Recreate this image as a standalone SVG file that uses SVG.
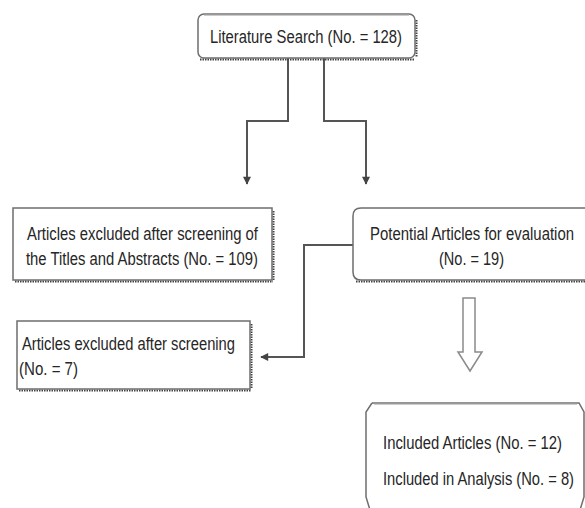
<svg xmlns="http://www.w3.org/2000/svg" width="585" height="508" viewBox="0 0 585 508">
<defs>
<style>
text{font-family:"Liberation Sans",Arial,sans-serif;font-size:17.5px;fill:#262626}
.box{fill:#fff;stroke:#6e6e6e;stroke-width:1.5}
.shadow{fill:none;stroke:#444;stroke-width:2;stroke-dasharray:1.5 1}
.conn{fill:none;stroke:#555;stroke-width:2}
.hollow{fill:#fff;stroke:#8a8a8a;stroke-width:1.5}
</style>
<marker id="ah" viewBox="0 0 10 10" refX="9" refY="5" markerWidth="4.5" markerHeight="4" orient="auto" markerUnits="strokeWidth">
<path d="M0,0 L10,5 L0,10 z" fill="#444"/>
</marker>
</defs>
<rect width="585" height="508" fill="#fff"/>

<g id="connectors">
<path class="conn" d="M288,58 V121 H247 V184" marker-end="url(#ah)"/>
<path class="conn" d="M324,58 V121 H366 V184" marker-end="url(#ah)"/>
<path class="conn" d="M353,245 H304 V357 H261" marker-end="url(#ah)"/>
<path class="hollow" d="M463,298 H475 V352 H482 L470,371 L458,352 H463 Z"/>
</g>

<g id="literature-search">
<path class="shadow" d="M200,59.5 H414 M416.5,20 V57"/>
<rect class="box" x="198" y="14" width="217" height="44" rx="6"/>
<line x1="204" y1="14.5" x2="409" y2="14.5" stroke="#999" stroke-width="2"/>
<text x="210" y="43" textLength="192" lengthAdjust="spacingAndGlyphs">Literature Search (No. = 128)</text>
</g>

<g id="excluded-titles">
<path class="shadow" d="M15,281.5 H273 M273.5,211 V280"/>
<rect class="box" x="13" y="208" width="259" height="72"/>
<text x="27" y="240" textLength="231" lengthAdjust="spacingAndGlyphs">Articles excluded after screening of</text>
<text x="26" y="265" textLength="232" lengthAdjust="spacingAndGlyphs">the Titles and Abstracts (No. = 109)</text>
</g>

<g id="potential">
<path class="shadow" d="M356,281.5 H585"/>
<path class="box" d="M590,208 H361 Q353,208 353,216 V272 Q353,280 361,280 H590"/>
<text x="370" y="240" textLength="204" lengthAdjust="spacingAndGlyphs">Potential Articles for evaluation</text>
<text x="439" y="265" textLength="65" lengthAdjust="spacingAndGlyphs">(No. = 19)</text>
</g>

<g id="excluded-screening">
<path class="shadow" d="M19,390.5 H251 M251.5,324 V389"/>
<rect class="box" x="17" y="321" width="233" height="68"/>
<text x="22" y="350" textLength="213" lengthAdjust="spacingAndGlyphs">Articles excluded after screening</text>
<text x="19" y="375" textLength="59" lengthAdjust="spacingAndGlyphs">(No. = 7)</text>
</g>

<g id="included">
<path class="box" d="M372,403 H579 L584,412 V497 L580,510 M372,403 L366,412 V497 L370,510"/>
<line x1="374" y1="403.5" x2="577" y2="403.5" stroke="#999" stroke-width="2"/>
<text x="383" y="449" textLength="179" lengthAdjust="spacingAndGlyphs">Included Articles (No. = 12)</text>
<text x="383" y="485" textLength="191" lengthAdjust="spacingAndGlyphs">Included in Analysis (No. = 8)</text>
</g>
</svg>
